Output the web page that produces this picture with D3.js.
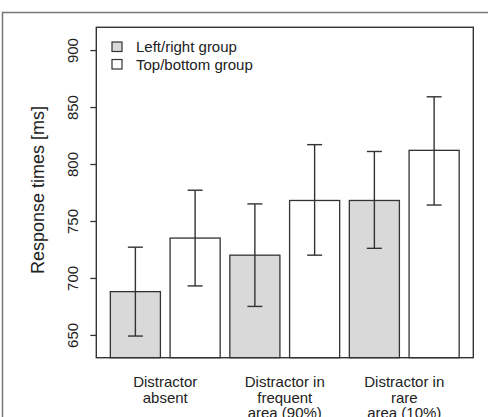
<!DOCTYPE html>
<html>
<head>
<meta charset="utf-8">
<script src="https://cdn.jsdelivr.net/npm/d3@7/dist/d3.min.js"></script>
<style>
  body { margin: 0; background: #fff; }
  svg { display: block; font-family: "Liberation Sans", Arial, sans-serif; }
</style>
</head>
<body>
<svg id="chart" width="488" height="417"></svg>
<script>
// ----------- DATA -----------
const categories = ["absent", "frequent", "rare"];
const categoryLines = [
  ["Distractor", "absent"],
  ["Distractor in", "frequent", "area (90%)"],
  ["Distractor in", "rare", "area (10%)"]
];
const series = ["Left/right group", "Top/bottom group"];
const leftRightMean = [688, 720, 768];
const leftRightLow = [649, 675, 726];
const leftRightHigh = [727, 765, 811];
const topBottomMean = [735, 768, 812];
const topBottomLow = [693, 720, 764];
const topBottomHigh = [777, 817, 859];
const yTicks = [650, 700, 750, 800, 850, 900];

// ----------- LAYOUT -----------
const svg = d3.select("#chart");
const box = { left: 96.3, right: 473.3, top: 27.3, bottom: 357.7 };
const fills = ["#d9d9d9", "#ffffff"];
const ink = "#333";

const y = d3.scaleLinear().domain([630, 920]).range([box.bottom, box.top]);

const x0 = d3.scaleBand()
  .domain(categories)
  .range([105.5, 464])
  .paddingInner(0)
  .paddingOuter(0);

const x1 = d3.scaleBand()
  .domain(series)
  .range([0, x0.bandwidth()])
  .paddingInner(0.162)
  .paddingOuter(0.081);

let rows = [];
categories.forEach((c, i) => {
  rows.push({ cat: c, s: series[0], mean: leftRightMean[i], low: leftRightLow[i], high: leftRightHigh[i], fill: fills[0] });
  rows.push({ cat: c, s: series[1], mean: topBottomMean[i], low: topBottomLow[i], high: topBottomHigh[i], fill: fills[1] });
});

// outer figure frame (cropped at right/bottom)
svg.append("rect")
  .attr("x", 2.5).attr("y", 12.5)
  .attr("width", 500).attr("height", 420)
  .attr("fill", "none")
  .attr("stroke", "#777")
  .attr("stroke-width", 1.5);

// ----------- BARS -----------
svg.selectAll("rect.bar")
  .data(rows)
  .enter()
  .append("rect")
  .attr("class", "bar")
  .attr("x", d => x0(d.cat) + x1(d.s))
  .attr("y", d => y(d.mean))
  .attr("width", x1.bandwidth())
  .attr("height", d => y(630) - y(d.mean))
  .attr("fill", d => d.fill)
  .attr("stroke", ink)
  .attr("stroke-width", 1.3);

// ----------- ERROR BARS -----------
const cx = d => x0(d.cat) + x1(d.s) + x1.bandwidth() / 2;
const capHalf = 7.5;

svg.selectAll("line.err")
  .data(rows)
  .enter()
  .append("line")
  .attr("class", "err")
  .attr("x1", cx).attr("x2", cx)
  .attr("y1", d => y(d.low)).attr("y2", d => y(d.high))
  .attr("stroke", ink).attr("stroke-width", 1.4);

["low", "high"].forEach(k => {
  svg.selectAll("line.cap-" + k)
    .data(rows)
    .enter()
    .append("line")
    .attr("class", "cap-" + k)
    .attr("x1", d => cx(d) - capHalf).attr("x2", d => cx(d) + capHalf)
    .attr("y1", d => y(d[k])).attr("y2", d => y(d[k]))
    .attr("stroke", ink).attr("stroke-width", 1.4);
});

// ----------- PLOT BOX -----------
svg.append("rect")
  .attr("x", box.left).attr("y", box.top)
  .attr("width", box.right - box.left)
  .attr("height", box.bottom - box.top)
  .attr("fill", "none")
  .attr("stroke", ink)
  .attr("stroke-width", 1.4);

// ----------- Y AXIS -----------
const yAxis = svg.append("g")
  .attr("transform", `translate(${box.left},0)`)
  .call(d3.axisLeft(y).tickValues(yTicks).tickSize(6).tickPadding(0).tickFormat(d3.format("d")));

yAxis.select(".domain").remove();
yAxis.selectAll(".tick line").attr("stroke", ink).attr("stroke-width", 1.3);
yAxis.selectAll(".tick text")
  .attr("x", null).attr("dy", null)
  .attr("transform", "translate(-18,0) rotate(-90)")
  .attr("text-anchor", "middle")
  .attr("font-size", 15)
  .attr("font-family", "Liberation Sans, Arial, sans-serif")
  .attr("fill", "#222");

svg.append("text")
  .attr("transform", "translate(44,190) rotate(-90)")
  .attr("text-anchor", "middle")
  .attr("font-size", 18)
  .attr("fill", "#222")
  .text("Response times [ms]");

// ----------- CATEGORY LABELS -----------
const labels = svg.selectAll("text.cat")
  .data(categories)
  .enter()
  .append("text")
  .attr("class", "cat")
  .attr("text-anchor", "middle")
  .attr("font-size", 15)
  .attr("fill", "#222");

labels.each(function(c, i) {
  d3.select(this).selectAll("tspan")
    .data(categoryLines[i])
    .enter()
    .append("tspan")
    .attr("x", x0(c) + x0.bandwidth() / 2)
    .attr("y", (d, j) => 386.7 + j * 15.8)
    .text(d => d);
});

// ----------- LEGEND -----------
const legend = svg.selectAll("g.legend")
  .data(series)
  .enter()
  .append("g")
  .attr("class", "legend")
  .attr("transform", (d, i) => `translate(112,${42 + i * 17.5})`);

legend.append("rect")
  .attr("width", 10).attr("height", 9.5)
  .attr("fill", (d, i) => fills[i])
  .attr("stroke", ink)
  .attr("stroke-width", 1.2);

legend.append("text")
  .attr("x", 24)
  .attr("y", 10.3)
  .attr("font-size", 15)
  .attr("fill", "#222")
  .text(d => d);
</script>
</body>
</html>
